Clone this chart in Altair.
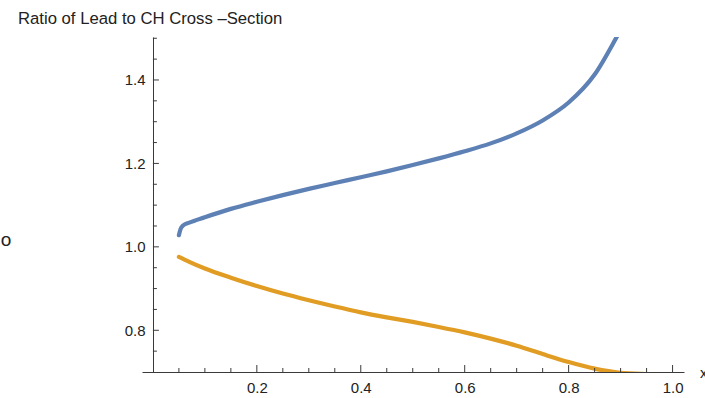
import altair as alt
import pandas as pd

# ---- data ----
lead_x = [0.050, 0.053, 0.058, 0.070, 0.10, 0.15, 0.20, 0.25, 0.30, 0.35, 0.40, 0.45,
          0.50, 0.55, 0.60, 0.65, 0.70, 0.75, 0.80, 0.85, 0.892, 0.900]
lead_y = [1.028, 1.042, 1.051, 1.058, 1.071, 1.091, 1.108, 1.124, 1.139, 1.153, 1.167,
          1.181, 1.196, 1.212, 1.229, 1.248, 1.272, 1.303, 1.346, 1.413, 1.502, 1.520]

ch_x = [0.05, 0.07, 0.10, 0.15, 0.20, 0.25, 0.30, 0.35, 0.40, 0.45, 0.50, 0.55, 0.60,
        0.65, 0.70, 0.75, 0.80, 0.85, 0.90, 0.95, 0.98]
ch_y = [0.976, 0.964, 0.948, 0.926, 0.906, 0.888, 0.872, 0.857, 0.843, 0.831, 0.820,
        0.808, 0.795, 0.780, 0.763, 0.743, 0.724, 0.708, 0.698, 0.695, 0.694]

x_labels = [0.2, 0.4, 0.6, 0.8, 1.0]
y_labels = [0.8, 1.0, 1.2, 1.4]
x_minor = [0.05, 0.1, 0.15, 0.25, 0.3, 0.35, 0.45, 0.5, 0.55, 0.65, 0.7, 0.75,
           0.85, 0.9, 0.95]
y_minor = [0.75, 0.85, 0.9, 0.95, 1.05, 1.1, 1.15, 1.25, 1.3, 1.35, 1.45, 1.5]

title_text = "Ratio of Lead to CH Cross \u2013Section"
left_text = "o"
x_title = "x"

# ---- layout ----
W, H = 542, 335
X_DOM = [-0.021, 1.022]
Y_DOM = [0.7, 1.503]
px_per_x = W / (X_DOM[1] - X_DOM[0])
px_per_y = H / (Y_DOM[1] - Y_DOM[0])
FONT = "Liberation Sans"
AX = "#3a3a3a"

df = pd.concat([
    pd.DataFrame({"x": lead_x, "y": lead_y, "series": "Lead"}),
    pd.DataFrame({"x": ch_x, "y": ch_y, "series": "CH"}),
])

xs = alt.Scale(domain=X_DOM, nice=False, zero=False)
ys = alt.Scale(domain=Y_DOM, nice=False, zero=False)

x_axis = alt.Axis(
    values=x_labels, ticks=False, tickSize=0, grid=False, title=None, format=".1f",
    labelFontSize=15, labelPadding=8, labelColor="#222", labelFont=FONT,
    domainColor=AX, domainWidth=1)
y_axis = alt.Axis(
    values=y_labels, ticks=False, tickSize=0, grid=False, title=None, format=".1f",
    labelFontSize=15, labelPadding=8, labelColor="#222", labelFont=FONT,
    domainColor=AX, domainWidth=1, offset=-round(-X_DOM[0] * px_per_x))

lines = alt.Chart(df).mark_line(strokeWidth=4.2, clip=True, strokeCap="round",
                                interpolate="monotone").encode(
    x=alt.X("x:Q", scale=xs, axis=x_axis),
    y=alt.Y("y:Q", scale=ys, axis=y_axis),
    color=alt.Color("series:N", scale=alt.Scale(domain=["Lead", "CH"],
                                                range=["#5E81B5", "#E19C24"]), legend=None),
    order=alt.Order("x:Q"),
)

xt = pd.DataFrame({
    "x": x_labels + x_minor,
    "y": 0.7,
    "y1": [0.7 + 7 / px_per_y] * len(x_labels) + [0.7 + 4 / px_per_y] * len(x_minor),
})
yt = pd.DataFrame({
    "y": y_labels + y_minor,
    "x": 0.0,
    "x1": [6 / px_per_x] * len(y_labels) + [4 / px_per_x] * len(y_minor),
})

xticks = alt.Chart(xt).mark_rule(color=AX, strokeWidth=1).encode(
    x=alt.X("x:Q", scale=xs, axis=x_axis),
    y=alt.Y("y:Q", scale=ys, axis=y_axis),
    y2="y1",
)
yticks = alt.Chart(yt).mark_rule(color=AX, strokeWidth=1).encode(
    y=alt.Y("y:Q", scale=ys, axis=y_axis),
    x=alt.X("x:Q", scale=xs, axis=x_axis),
    x2="x1",
)

title = alt.Chart(pd.DataFrame({"t": [title_text]})).mark_text(
    align="left", baseline="middle", fontSize=16.7, font=FONT, color="#222"
).encode(text="t:N", x=alt.value(-124), y=alt.value(-18.5))

left = alt.Chart(pd.DataFrame({"t": [left_text]})).mark_text(
    align="center", baseline="middle", fontSize=19, font=FONT, color="#222"
).encode(text="t:N", x=alt.value(-136), y=alt.value(203))

xlab = alt.Chart(pd.DataFrame({"t": [x_title]})).mark_text(
    align="left", baseline="middle", fontSize=15, font=FONT, color="#222"
).encode(text="t:N", x=alt.value(558), y=alt.value(336))

chart = alt.layer(lines, xticks, yticks, title, left, xlab).properties(
    width=W, height=H,
    autosize=alt.AutoSizeParams(type="none"),
    padding={"left": 142, "top": 37, "right": 21, "bottom": 26},
    background="white",
).configure_view(stroke=None)

chart.save("out.html", embed_options={"renderer": "svg", "actions": False})
